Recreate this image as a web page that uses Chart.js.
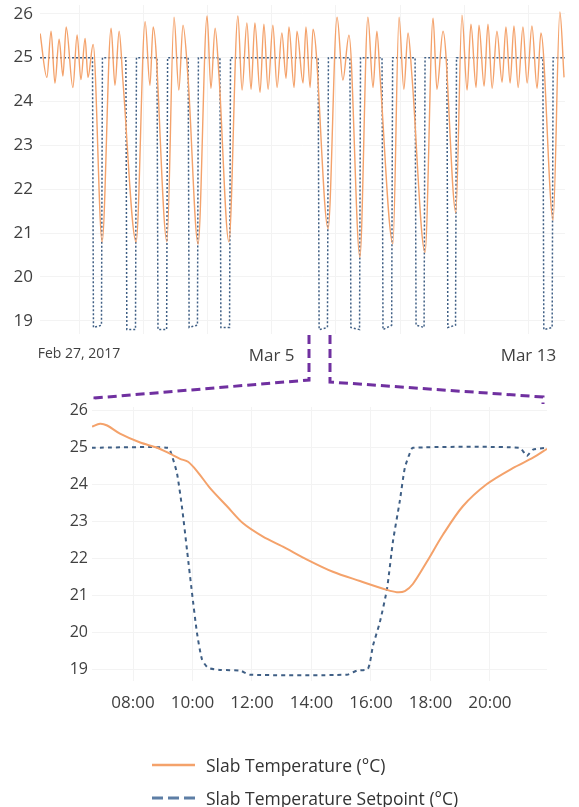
<!DOCTYPE html>
<html>
<head>
<meta charset="utf-8">
<script src="https://cdn.jsdelivr.net/npm/chart.js@4.4.0/dist/chart.umd.min.js"></script>
<style>
  body { margin: 0; background: #fff; font-family: "Open Sans", sans-serif; }
  #wrap { position: relative; width: 579px; height: 807px; overflow: hidden; }
  #top_chart { position: absolute; left: 0; top: 0; }
  #zoom_chart { position: absolute; left: 0; top: 393px; }
  #zoom_lines { position: absolute; left: 0; top: 0; }
  .legend_row { position: absolute; left: 152px; height: 24px; display: flex; align-items: center;
                font-size: 17.5px; color: #333; white-space: nowrap; }
  .legend_row svg { margin-right: 11px; }
</style>
</head>
<body>
<div id="wrap">
  <canvas id="top_chart" width="579" height="372"></canvas>
  <canvas id="zoom_chart" width="579" height="330"></canvas>
  <svg id="zoom_lines" width="579" height="807">
    <polyline points="309,335 309,380 95,398 95,404" fill="none" stroke="#7030a0" stroke-width="3" stroke-dasharray="9 5"/>
    <polyline points="330,335 330,382 543,397 543,404" fill="none" stroke="#7030a0" stroke-width="3" stroke-dasharray="9 5"/>
  </svg>
  <div class="legend_row" style="top:753px">
    <svg width="43" height="6"><line x1="0" y1="3" x2="43" y2="3" stroke="#f4a26b" stroke-width="2.5"/></svg>
    <span id="legend_temp"></span>
  </div>
  <div class="legend_row" style="top:786px">
    <svg width="43" height="6"><line x1="0" y1="3" x2="43" y2="3" stroke="#5d7ea5" stroke-width="3" stroke-dasharray="11 5"/></svg>
    <span id="legend_set"></span>
  </div>
</div>
<script>
// series names
const seriesNames = ["Slab Temperature (°C)", "Slab Temperature Setpoint (°C)"];

// top panel: days since Feb 27, 2017 00:00
const topTempDay = [-1.21, -1.00, -0.87, -0.75, -0.62, -0.50, -0.40, -0.19, -0.06, 0.06, 0.19, 0.28, 0.44,
  0.72, 1.00, 1.12, 1.25, 1.37, 1.78, 2.06, 2.21, 2.31, 2.74, 2.96, 3.11, 3.24, 3.40, 3.71, 3.99, 4.11, 4.24, 4.36,
  4.67, 4.95, 5.08, 5.23, 5.36, 5.48, 5.64, 5.76, 5.89, 6.04, 6.17, 6.32, 6.45, 6.54, 6.70, 6.79, 6.98, 7.07, 7.20, 7.29,
  7.76, 8.04, 8.22, 8.41, 8.75, 9.00, 9.16, 9.28, 9.38, 9.78, 9.97, 10.12, 10.25, 10.37, 10.78, 11.03, 11.15, 11.34,
  11.74, 11.93, 12.09, 12.21, 12.37, 12.46, 12.62, 12.74, 12.87, 13.02, 13.18, 13.30, 13.43, 13.55, 13.68, 13.83,
  13.96, 14.11, 14.27, 14.39, 14.77, 14.98, 15.11];
const topTempVal = [25.55, 24.55, 25.6, 24.42, 25.42, 24.58, 25.7, 24.32, 25.52, 24.5, 25.44, 24.55, 25.3,
  20.8, 25.67, 24.37, 25.6, 24.45, 20.8, 25.82, 24.37, 25.7, 20.8, 25.92, 24.26, 25.74, 24.5, 20.75, 25.95, 24.3, 25.67, 24.6,
  20.8, 25.95, 24.26, 25.79, 24.28, 25.79, 24.21, 25.76, 24.28, 25.74, 24.32, 25.56, 24.53, 25.7, 24.32, 25.6, 24.42, 25.7, 24.32, 25.65,
  21.1, 25.92, 24.49, 25.51, 20.45, 25.92, 24.32, 25.6, 24.55, 20.76, 25.92, 24.28, 25.56, 24.6, 20.56, 25.9, 24.28, 25.6,
  21.47, 25.97, 24.26, 25.76, 24.32, 25.74, 24.35, 25.76, 24.3, 25.6, 24.44, 25.7, 24.42, 25.72, 24.32, 25.7,
  24.42, 25.72, 24.3, 25.56, 21.3, 26.04, 24.55];

const topSetDay = [-1.215, 0.42, 0.45, 0.70, 0.73, 1.46, 1.49, 1.76, 1.79, 2.43, 2.46, 2.73, 2.76,
  3.40, 3.43, 3.69, 3.72, 4.39, 4.42, 4.69, 4.72, 7.45, 7.48, 7.74, 7.77, 8.44, 8.47, 8.74, 8.77,
  9.44, 9.47, 9.74, 9.77, 10.47, 10.50, 10.75, 10.78, 11.46, 11.49, 11.73, 11.76, 14.45, 14.48, 14.74, 14.77, 15.14];
const topSetVal = [25, 25, 18.85, 18.9, 25, 25, 18.8, 18.8, 25, 25, 18.8, 18.8, 25,
  25, 18.85, 18.9, 25, 25, 18.85, 18.85, 25, 25, 18.8, 18.85, 25, 25, 18.85, 18.8, 25,
  25, 18.8, 18.9, 25, 25, 18.9, 18.85, 25, 25, 18.85, 18.9, 25, 25, 18.8, 18.85, 25, 25];

const topTickDay = [0, 2, 4, 6, 8, 10, 12, 14];
const topTickLabel = ["Feb 27, 2017", "", "", "Mar 5", "", "", "", "Mar 13"];

// zoomed day: hours of the day
const zoomTempHour = [6.62, 6.89, 7.13, 7.56, 8.24, 8.81, 9.24, 9.58, 9.85, 10.15, 10.59, 11.16, 11.7, 12.37,
  13.04, 13.85, 14.72, 15.63, 16.54, 16.87, 17.14, 17.41, 17.88, 18.42, 19.09, 19.9, 20.77, 21.45, 21.92];
const zoomTempVal = [25.57, 25.65, 25.6, 25.38, 25.14, 25.0, 24.84, 24.7, 24.62, 24.37, 23.91, 23.42, 22.96, 22.6,
  22.33, 21.98, 21.65, 21.4, 21.16, 21.1, 21.13, 21.32, 21.92, 22.65, 23.42, 24.02, 24.45, 24.73, 24.97];

const zoomSetHour = [6.62, 9.18, 9.31, 9.48, 9.65, 9.82, 9.98, 10.15, 10.32, 10.52, 10.92, 11.6, 11.93,
  15.19, 15.53, 15.9, 16.07, 16.3, 16.54, 16.74, 16.97, 17.14, 17.31, 17.41, 21.0, 21.24, 21.45, 21.92];
const zoomSetVal = [25, 25, 24.78, 24.3, 23.37, 22.2, 21.1, 20.0, 19.28, 19.06, 19.0, 18.98, 18.87,
  18.87, 18.98, 19.03, 19.66, 20.29, 21.19, 22.47, 23.56, 24.46, 24.86, 25, 25, 24.78, 24.95, 25];

const zoomTickHour = [8, 10, 12, 14, 16, 18, 20];
const zoomTickLabel = ["08:00", "10:00", "12:00", "14:00", "16:00", "18:00", "20:00"];

const yTicks = [19, 20, 21, 22, 23, 24, 25, 26];

const orange = "#f4a26b";
const navy = "#3f5f85";
const grid_color = "#f3f3f3";
const text_color = "#404040";

// zip two arrays into {x, y} points
function pairs(xs, ys) {
  return xs.map((x, i) => ({ x: x, y: ys[i] }));
}

// fixed axis width, and no extra room for the end labels
function fix_y(width) {
  return (s) => { s.width = width; s.paddingTop = 0; s.paddingBottom = 0; };
}

function make_top_chart() {
  return new Chart(document.getElementById("top_chart"), {
    type: "line",
    data: { datasets: [
      { label: seriesNames[0], data: pairs(topTempDay, topTempVal), borderColor: orange,
        borderWidth: 1.4, pointRadius: 0, cubicInterpolationMode: "monotone" },
      { label: seriesNames[1], data: pairs(topSetDay, topSetVal), borderColor: navy,
        borderWidth: 1.5, borderDash: [2, 2], pointRadius: 0, tension: 0 }
    ]},
    options: {
      responsive: false, animation: false,
      layout: { padding: { left: 0, right: 14, top: 5, bottom: 0 } },
      plugins: { legend: { display: false }, tooltip: { enabled: false } },
      scales: {
        x: { type: "linear", min: -1.215, max: 15.14,
          afterBuildTicks: (s) => { s.ticks = topTickDay.map(v => ({ value: v })); },
          afterFit: (s) => { s.height = 38; },
          grid: { color: grid_color, drawTicks: false }, border: { display: false },
          ticks: { autoSkip: false, maxRotation: 0, padding: 12, color: text_color,
            font: (c) => ({ family: "Open Sans", size: c.index === 0 ? 14 : 17 }),
            callback: (v, i) => topTickLabel[i] } },
        y: { min: 18.7, max: 26.2,
          afterBuildTicks: (s) => { s.ticks = yTicks.map(v => ({ value: v })); },
          afterFit: fix_y(40),
          grid: { color: grid_color, drawTicks: false }, border: { display: false },
          ticks: { padding: 7, color: text_color, font: { family: "Open Sans", size: 17 } } }
      }
    }
  });
}

function make_zoom_chart() {
  return new Chart(document.getElementById("zoom_chart"), {
    type: "line",
    data: { datasets: [
      { label: seriesNames[0], data: pairs(zoomTempHour, zoomTempVal), borderColor: orange,
        borderWidth: 2, pointRadius: 0, tension: 0.3 },
      { label: seriesNames[1], data: pairs(zoomSetHour, zoomSetVal), borderColor: navy,
        borderWidth: 2, borderDash: [4, 4], pointRadius: 0, tension: 0.2 }
    ]},
    options: {
      responsive: false, animation: false,
      layout: { padding: { left: 0, right: 32, top: 14, bottom: 0 } },
      plugins: { legend: { display: false }, tooltip: { enabled: false } },
      scales: {
        x: { type: "linear", min: 6.62, max: 21.92,
          afterBuildTicks: (s) => { s.ticks = zoomTickHour.map(v => ({ value: v })); },
          afterFit: (s) => { s.height = 42; },
          grid: { color: grid_color, drawTicks: false }, border: { display: false },
          ticks: { autoSkip: false, maxRotation: 0, padding: 12, color: text_color,
            font: { family: "Open Sans", size: 17 },
            callback: (v, i) => zoomTickLabel[i] } },
        y: { min: 18.7, max: 26.1,
          afterBuildTicks: (s) => { s.ticks = yTicks.map(v => ({ value: v })); },
          afterFit: fix_y(92),
          grid: { color: grid_color, drawTicks: false }, border: { display: false },
          ticks: { padding: 4, color: text_color, font: { family: "Open Sans", size: 16 } } }
      }
    }
  });
}

document.getElementById("legend_temp").textContent = seriesNames[0];
document.getElementById("legend_set").textContent = seriesNames[1];
make_top_chart();
make_zoom_chart();
</script>
</body>
</html>
